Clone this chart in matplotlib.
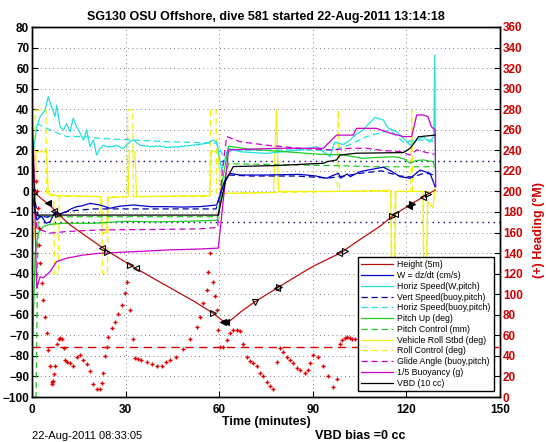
import matplotlib.pyplot as plt
import numpy as np

plt.rcParams['font.family'] = ['Liberation Sans', 'DejaVu Sans']

# ---- data (time in minutes, values on left axis) ----
height_t = [0.5, 3, 6, 8, 12, 18, 24, 33, 45, 52, 58, 61, 63, 67, 71.5, 79, 85, 90, 99, 105, 111.5, 116, 122, 126.5, 129.2]
height_v = [0, -3.5, -7, -10.5, -16, -22.5, -28.8, -37.2, -47.5, -53.5, -59.2, -62.8, -63.5, -58.5, -53.6, -46.6, -41, -36.5, -29.8, -23.5, -17, -11.4, -5.7, -1.7, 0.7]

mark_t = [0.7, 5.2, 6.9, 8.3, 22.4, 23.9, 31.4, 33.2, 58.1, 61.3, 62.3, 71.5, 78.5, 79.3, 98.5, 100.2, 115.3, 116.3, 120.8, 121.8, 125.3, 126.9]
mark_v = [0, -5.8, -9.5, -11.2, -27.6, -29.3, -35.9, -37.4, -59.3, -63.3, -63.4, -53.6, -46.9, -46.4, -30, -29, -11.8, -11, -6.9, -6, -2.5, -1.4]
mark_sym = ['^', '<', '<', '>', '<', '>', '>', '<', '>', '<', '<', 'v', '<', '>', '<', '>', '>', '<', '<', '>', '<', '>']
mark_fill = [0, 1, 0, 0, 0, 0, 0, 0, 0, 1, 1, 0, 0, 0, 0, 0, 0, 0, 1, 1, 0, 0]

w_t = [0, 0.8, 1.5, 3, 4.5, 5.8, 7.4, 9, 11.1, 12.5, 14.3, 16, 18.6, 21.8, 25, 28, 32.5, 38, 43.2, 48, 53.8, 59.2, 60.8, 62, 63.5, 66.7, 75.2, 85.9, 91, 94.4, 96, 98.2, 99, 101, 102, 105.1, 108, 112.6, 115, 118, 121.2, 124.4, 127.6, 129.2]
w_v = [0, -8, -13.9, -12, -15.5, -14.7, -9.8, -11, -9.8, -8.5, -7.4, -7, -5.8, -6.6, -8.2, -7.2, -6.6, -7.4, -7.4, -7.6, -7.4, -6.6, 0.7, 6, 8.8, 8, 8, 8.3, 7.5, 6.4, 7.5, 8.8, 6.5, 8.5, 7.2, 9.6, 10.5, 11.8, 10, 7.2, 6.4, 10.4, 8.8, 2.3]

vs_t = [1, 2, 5, 8, 12, 20, 30, 45, 59, 61, 63, 70, 85, 95, 100, 106, 112, 118, 122, 126, 129]
vs_v = [-5, -12, -12.5, -11, -9.5, -8.5, -8.5, -8.5, -8.5, 2, 8, 7.5, 7.5, 6.5, 7.5, 9, 10, 7.5, 7, 9, 8]

hw_t = [0.5, 1.5, 2.6, 4.2, 5.2, 6.3, 7.4, 7.9, 9, 10.1, 11.1, 12.2, 13.2, 14.3, 15.4, 16.5, 17.5, 18.6, 19.7, 20.7, 21.8, 22.9, 23.9, 26, 27, 29.1, 31.4, 32.5, 34.6, 37.8, 41, 43.2, 47.4, 51.7, 56, 58.1, 59.2, 60.8, 62.9, 66.7, 75.2, 85.9, 91.2, 95.5, 97, 99.8, 101.9, 104, 106.2, 108, 110, 112.6, 114, 116.9, 119, 121.2, 123.3, 125.4, 127.6, 128.8, 129.1, 129.3]
hw_v = [20, 31.5, 36.4, 39.6, 46.1, 41, 36.4, 42, 31.5, 29.9, 33, 29, 35.6, 31.5, 28.4, 25, 30, 21.8, 25, 17.7, 20.8, 22.5, 21.8, 21.8, 22.5, 20.8, 24.2, 25, 22.5, 21.8, 22.1, 21.4, 21.8, 22.5, 23.4, 25, 24, 10.4, 21, 19.3, 18.5, 20.2, 21.8, 16.9, 24, 22.8, 25, 28, 29.9, 33, 36, 34.8, 31, 29, 26, 22.6, 25, 26.6, 24, 27, 66.4, 8]

hb_t = [1.5, 5.8, 11.1, 16.5, 21.8, 32.5, 43.2, 53.8, 59.2, 61, 64.5, 69.9, 85.9, 96.5, 101.9, 107.3, 114.7, 119, 123.3, 127.6, 129]
hb_v = [33, 29.9, 26.7, 26.7, 25.8, 25, 24.2, 23.7, 23.4, 18, 20.2, 20, 20.2, 20, 22.8, 26.7, 29.9, 24, 25, 25, 24]

pu_t = [0.3, 1, 2, 3.6, 5.8, 10, 20, 30, 40, 50, 59.5, 61, 63, 70, 85, 91, 100, 106, 110, 116, 119, 121.2, 123, 125.4, 128.5, 129.2]
pu_v = [-70, -30, -20.3, -17.1, -16, -15.5, -15.5, -14.5, -14.8, -14.5, -14, 5, 22, 20.5, 18.9, 18.2, 17.7, 16.1, 16.5, 16.9, 16, 13.7, 15, 15.3, 14.5, 12]

pc_t = [0.9, 1.3, 2, 20, 40, 59.5, 61.5, 63, 80, 100, 110, 129]
pc_v = [-100, -100, -12.3, -12.3, -12.3, -12.3, 5, 13.5, 13, 12.5, 12, 12]

ro_t = [0, 0.4, 0.9, 1.3, 4.7, 5.2, 8, 22, 22.4, 23.9, 24.3, 30.8, 31.2, 33, 33.5, 57, 57.5, 59.7, 60.5, 77.4, 78.4, 79, 96.5, 115, 115.3, 116.3, 116.6, 125.3, 125.5, 126.5, 126.8, 128.5, 129.2]
ro_v = [0, -25, -20, 19.3, 19.3, -1, -2, -2.5, -20, -20, -3, -2.5, 19.3, 19.3, -2.5, -2, 19.3, 19.3, -1, -0.5, 39.6, 0, 0, 0.5, -35, -35, 0, 0, -35, -35, -5, -8, 2]

rc_t = [0.9, 1.0, 4.5, 4.7, 7, 7.2, 8.5, 8.7, 22.4, 22.6, 24.2, 24.4, 30.5, 30.7, 32.3, 32.5, 57, 57.2, 59, 59.2, 97.8, 98.2, 98.6, 115, 115.2, 116.2, 116.4, 121.4, 121.7, 122, 125.4, 125.6, 126.6, 126.8, 129]
rc_v = [0, 39.6, 39.6, -2, -2, -40, -40, -2.5, -2.5, -40, -40, -2.5, -2.5, 39.6, 39.6, -2.5, -2.5, 39.6, 39.6, -1, 0, 39.6, 0, 0, -40, -40, 0, 0, 39.6, 0, 0, -40, -40, 0, 0]

ga_t = [1.2, 1.5, 5.8, 11, 21.8, 40, 53.8, 59.5, 61, 62.4, 66.7, 75.2, 85.9, 96.5, 101.9, 107.3, 112.6, 118, 121.2, 123.3, 127.6, 129]
ga_v = [-10, -18, -20.3, -19.5, -18.7, -18.5, -18.2, -17.5, 10, 26.7, 24.2, 22.5, 21, 20.2, 21, 21, 19.9, 19.4, 17.7, 20.2, 18.5, 18]

bu_t = [0, 0.5, 1.5, 2.6, 3.6, 5.8, 7.9, 11.1, 16.5, 21.8, 32.5, 43.2, 53.8, 59.2, 59.7, 63, 78.4, 90.2, 93.4, 94.4, 97.6, 103, 104, 110.4, 114.7, 119, 121.7, 123.3, 125.4, 126.9, 128, 129.2, 129.4]
bu_v = [36, 20, -47.1, -41.5, -42, -39, -34.1, -32.5, -30.9, -30.1, -29.3, -28.5, -28, -27.6, -27.6, 20.2, 21, 21, 21, 22.6, 27.4, 27.4, 30.7, 30.7, 28.4, 26.7, 26.7, 37.2, 37.2, 36.4, 31.5, 29.9, 2.3]

vbd_t = [0, 0.3, 1, 1.5, 59.7, 62, 64.5, 78.4, 89.1, 93.4, 94.6, 97.6, 98.7, 104, 119, 121.2, 122.8, 123.8, 129.2]
vbd_v = [29.9, 20, -10.6, -11.5, -11.5, 5, 12.1, 12.6, 13.4, 13.7, 14.5, 15.3, 17.7, 18.6, 18.9, 21, 24.2, 26.6, 27.4]

# heading (deg M, right axis)
hd_t = [1.3, 1.6, 2.0, 2.3, 2.4, 2.6, 3.1, 3.6, 4.2, 4.7, 5.2, 5.8, 6.3, 6.5, 6.8, 7.1, 7.4, 7.9, 8.5, 9.0, 9.6, 10.1, 10.6, 11.2, 12.2,
        13.3, 14.3, 15.4, 16.5, 17.5, 18.6, 19.7, 20.7, 21.8, 22.3, 22.9, 23.4, 23.9, 24.5, 25.5, 26.6, 27.7, 28.7, 29.8, 30.3,
        31.4, 32.5, 33.0, 34.0, 35.0, 36.8, 38.5, 40.0, 41.7, 43.0, 44.2, 46.3, 48.5, 50.6, 52.8, 53.8, 54.9, 56.0, 56.5, 57.0,
        58.1, 58.7, 59.2, 59.7, 60.3, 61.3, 62.4, 63.5, 64.5, 65.6, 66.7, 67.7, 68.8, 69.9, 70.9, 72.0, 73.1, 74.1, 75.2, 76.3,
        77.4, 78.4, 79.5, 80.6, 81.6, 82.7, 83.8, 84.8, 85.9, 87.5, 88.6, 89.1, 90.2, 91.8, 93.4, 95.0, 96.6, 97.6, 98.7, 99.5,
        100.3, 101.0, 101.8, 102.6, 103.4]
hd_v = [210, 200, 184, 164, 148, 130, 111, 94, 78, 62, 46, 30, 15, 13, 16, 22, 30, 52, 56, 57, 56, 48, 36, 34, 33,
        30, 39, 41, 36, 32, 25, 13, 8, 8, 14, 23, 40, 49, 58, 67, 73, 81, 90, 101, 112,
        85, 56, 38, 37, 36, 34, 32, 30, 30, 34, 36, 39, 47, 56, 68, 78, 91, 104, 122, 140,
        112, 98, 85, 65, 49, 49, 55, 62, 65, 65, 64, 52, 39, 35, 33, 30, 23, 20, 15, 11,
        8, 34, 48, 44, 39, 36, 33, 28, 26, 23, 26, 33, 41, 39, 30, 20, 10, 18, 52, 55,
        57, 58, 57, 56, 56]
hd_target = 49
w_band = 15

labels = ['Height (5m)', 'W = dz/dt (cm/s)', 'Horiz Speed(W,pitch)', 'Vert Speed(buoy,pitch)',
          'Horiz Speed(buoy,pitch)', 'Pitch Up (deg)', 'Pitch Control (mm)', 'Vehicle Roll Stbd (deg)',
          'Roll Control (deg)', 'Glide Angle (buoy,pitch)', '1/5 Buoyancy (g)', 'VBD (10 cc)']

fig = plt.figure(figsize=(5.46, 4.42), dpi=100)
ax = fig.add_axes([32/546, 1-397/442, 468/546, 370/442])
ax2 = ax.twinx()

lw = 0.9
ax.axhline(w_band, color='#000080', linestyle=(0, (1, 3)), linewidth=1.0, zorder=1)
ax.axhline(-w_band, color='#000080', linestyle=(0, (1, 3)), linewidth=1.0, zorder=1)

h_yel1, = ax.plot(ro_t, ro_v, color='#f2f20a', lw=lw)
h_yel2, = ax.plot(rc_t, rc_v, color='#f2f20a', lw=lw, ls='--', dashes=(5, 3))
h_cy1, = ax.plot(hw_t, hw_v, color='#22e0e0', lw=lw)
h_cy2, = ax.plot(hb_t, hb_v, color='#22e0e0', lw=lw, ls='--', dashes=(5, 3))
h_gr1, = ax.plot(pu_t, pu_v, color='#22cc22', lw=lw)
h_gr2, = ax.plot(pc_t, pc_v, color='#22cc22', lw=lw, ls='--', dashes=(5, 3))
h_mg1, = ax.plot(bu_t, bu_v, color='#cc00cc', lw=lw)
h_mg2, = ax.plot(ga_t, ga_v, color='#cc00cc', lw=lw, ls='--', dashes=(5, 3))
h_bl2, = ax.plot(vs_t, vs_v, color='#0000aa', lw=lw, ls='--', dashes=(5, 3))
h_bl1, = ax.plot(w_t, w_v, color='#0000cc', lw=lw)
h_vbd, = ax.plot(vbd_t, vbd_v, color='k', lw=lw)
h_ht, = ax.plot(height_t, height_v, color='#b81010', lw=lw)

for t, v, m, f in zip(mark_t, mark_v, mark_sym, mark_fill):
    ax.plot(t, v, marker=m, ms=5, mec='k', mew=0.8, mfc='k' if f else 'none', ls='none')

ax2.plot(hd_t, hd_v, '+', color='#e00000', ms=3.5, mew=1.0)
ax2.axhline(hd_target, color='#dd0000', lw=1.0, ls='--', dashes=(6, 4))

ax.set_xlim(0, 150)
ax.set_ylim(-100, 80)
ax2.set_ylim(0, 360)
ax.set_xticks(np.arange(0, 151, 30))
ax.set_yticks(np.arange(-100, 81, 10))
ax2.set_yticks(np.arange(0, 361, 20))
ax.grid(True, color='0.35', linestyle=(0, (1, 4)), linewidth=0.6)
ax.tick_params(direction='in', labelsize=8.5, length=4, pad=2)
ax.tick_params(axis='x', pad=5)
ax2.tick_params(direction='in', labelsize=8.5, length=4, pad=2, labelcolor='#d00000')
for lab in ax.get_xticklabels() + ax.get_yticklabels() + ax2.get_yticklabels():
    lab.set_fontweight('bold')
for a in (ax, ax2):
    for s in a.spines.values():
        s.set_linewidth(1.0)

ax.set_xlabel('Time (minutes)', fontsize=9, fontweight='bold', labelpad=0)
ax2.set_ylabel('(+) Heading (\u00b0M)', fontsize=9, fontweight='bold', color='#d00000', labelpad=2)
ax2.yaxis.set_label_coords(1.07, 0.45)
ax.set_title('SG130 OSU Offshore, dive 581 started 22-Aug-2011 13:14:18', fontsize=9, fontweight='bold', pad=5)

handles = [h_ht, h_bl1, h_cy1, h_bl2, h_cy2, h_gr1, h_gr2, h_yel1, h_yel2, h_mg2, h_mg1, h_vbd]
leg = ax2.legend(handles, labels, loc='lower right', bbox_to_anchor=(0.987, 0.016), borderaxespad=0,
                 fontsize=6.3, frameon=True, fancybox=False, edgecolor='k', framealpha=1,
                 handlelength=3.6, handletextpad=0.5, labelspacing=0.2, borderpad=0.4)
leg.get_frame().set_linewidth(1.0)
leg.set_zorder(10)

fig.text(32/546, 1-436/442, '22-Aug-2011 08:33:05', fontsize=8, va='center')
fig.text(315/546, 1-436/442, 'VBD bias =0 cc', fontsize=9, fontweight='bold', va='center')

fig.savefig('out.png', dpi=100)
